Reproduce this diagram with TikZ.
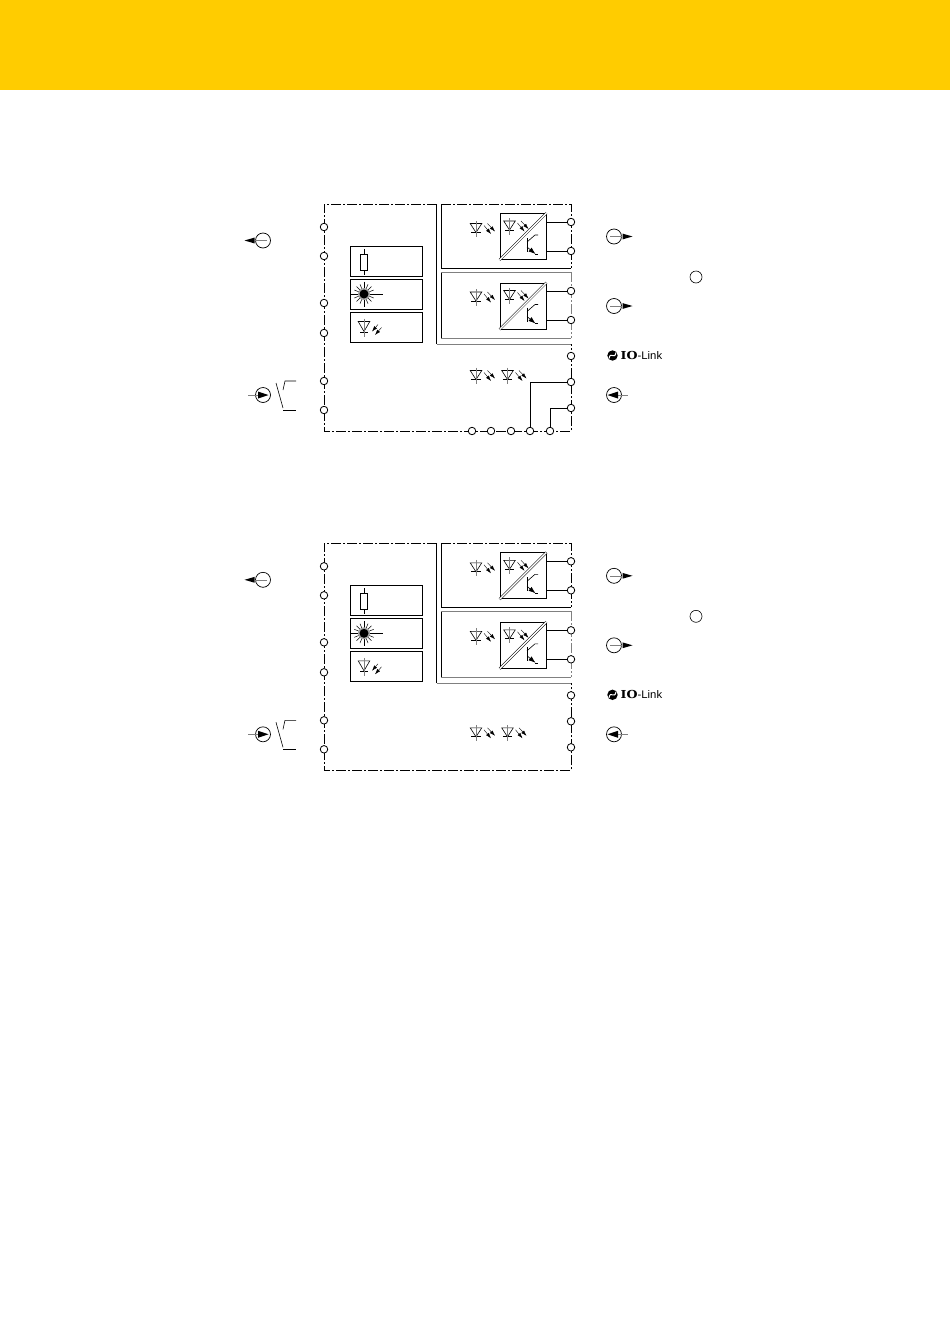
\documentclass[tikz,border=0pt]{standalone}
\usepackage{fontspec}
\setmainfont{Liberation Sans}
\newfontfamily\slabfont[FakeStretch=1.15]{DejaVu Serif}
\newfontfamily\linkfont[FakeStretch=1.03]{Liberation Sans}
\usetikzlibrary{arrows.meta}
\definecolor{headyellow}{HTML}{FFCC00}
\tikzset{
  term/.style={draw,circle,fill=white,inner sep=0pt,minimum size=7.5pt,line width=.8pt},
  dashframe/.style={line width=.7pt,dash pattern=on 10pt off 2pt on 2pt off 2pt},
  wire/.style={line width=.8pt},
  infobox/.style={draw,line width=.8pt,inner sep=0pt,minimum width=72pt,minimum height=30pt},
  convbox/.style={draw,line width=.8pt,inner sep=0pt,minimum width=46pt,minimum height=46pt},
  emit/.style={line width=.4pt,-{Latex[length=5.5pt,width=3.6pt]}},
  led/.pic={
    \draw[line width=.6pt] (-5.8,0)--(5.8,0)--(0,9)--cycle;
    \draw[line width=.7pt] (-4.7,9)--(4.7,9);
    \draw[line width=.6pt,gray] (0,-3)--(0,13.5);
    \draw[emit] (8,2)--(15,10.5);
    \draw[emit] (11.5,0)--(19,8);
  },
  ledin/.pic={
    \draw[line width=.6pt] (-5.8,0)--(5.8,0)--(0,10)--cycle;
    \draw[line width=.6pt] (-4,10.5)--(4,10.5);
    \draw[line width=.6pt,gray] (0,-3)--(0,15);
    \draw[emit] (14,3)--(8,10);
    \draw[emit] (17.5,6)--(11,13.5);
  },
  transistor/.pic={
    \draw[line width=.8pt] (0,-7)--(0,7);
    \draw[line width=.6pt] (0,-3)--(8,-10)--(11,-10);
    \draw[line width=.6pt,-{Latex[length=7pt,width=5pt]}] (0,2)--(8.5,9);
    \draw[line width=.6pt] (8,9)--(11,9);
  },
  sigout/.pic={
    \draw[line width=.7pt] (0,0) circle (7.5);
    \draw[line width=.6pt,gray] (-4,0)--(8,0);
    \fill (8.5,-2.9)--(18.5,0)--(8.5,2.9)--cycle;
  },
}
\begin{document}
\begin{tikzpicture}[x=1pt,y=-1pt]
  \useasboundingbox (0,0) rectangle (950,1344);
  \fill[headyellow] (0,0) rectangle (950,90);

  \foreach \grp/\off/\rowy in {a/0/370.5,b/339.3/388.5}{
  \begin{scope}[yshift=-\off pt]
    % frame
    \draw[dashframe] (437,204)--(324,204)--(324,431)--(571,431)--(571,344);
    \draw[dashframe] (441,204)--(571,204)--(571,268);
    \draw[dashframe,gray] (571,272)--(571,338);
    \draw[line width=.7pt] (436.5,204)--(436.5,344);
    \draw[line width=.7pt,gray] (436.5,344)--(571,344);
    \draw[line width=.7pt] (441,204)--(441,268)--(571,268);
    \draw[line width=.7pt] (441,338)--(441,272);
    \draw[line width=.7pt,gray] (441,272)--(571,272);
    \draw[line width=.7pt,gray] (441,338)--(571,338);

    % info boxes
    \node[infobox] (res\grp) at (386.5,261.3) {};
    \node[infobox] (las\grp) at (386.5,294.5) {};
    \node[infobox] (rcv\grp) at (386.5,327.3) {};
    \draw[line width=.7pt] (360.5,254)rectangle(367.5,270);
    \draw[line width=.6pt] (364,249)--(364,254) (364,270)--(364,274.5);
    \foreach \a in {0,22.5,...,337.5}
      \draw[line width=.5pt] (364,294)--++(\a:10.5);
    \draw[line width=.7pt] (351,294)--(383,294) (364,281.5)--(364,307);
    \fill[gray!70] (364,294) circle (6);
    \fill (364,294) circle (4.5);
    \pic at (364,321.5) {ledin};

    % diodes and converters
    \pic at (476,223.5) {led};
    \pic at (476,292) {led};
    \pic at (476,\rowy) {led};
    \pic at (507.5,\rowy) {led};
    \foreach \i/\y in {1/236.5,2/306}{
      \node[convbox] (conv\grp\i) at (523,\y) {};
      \draw[line width=.5pt,double,double distance=1.4pt] (conv\grp\i.south west)--(conv\grp\i.north east);
      \pic at (509.5,\y-15.5) {led};
      \pic at (527,\y+8.5) {transistor};
    }

    % terminals
    \foreach \i/\y in {1/227,2/256,3/303,4/333,5/381,6/410}
      \node[term] (l\grp\i) at (324,\y) {};
    \foreach \i/\y in {1/222,2/251,3/291,4/320,5/356,6/382,7/408}
      \node[term] (r\grp\i) at (571,\y) {};
    \draw[wire] (r\grp1)--(r\grp1 -| conv\grp1.east);
    \draw[wire] (r\grp2)--(r\grp2 -| conv\grp1.east);
    \draw[wire] (r\grp3)--(r\grp3 -| conv\grp2.east);
    \draw[wire] (r\grp4)--(r\grp4 -| conv\grp2.east);

    % signal symbols
    \pic[rotate=180] at (263,240.5) {sigout};
    \pic at (614,236.5) {sigout};
    \pic at (614,306) {sigout};
    \draw[line width=.7pt] (263,395) circle (7.5) (614,395) circle (7.5);
    \draw[line width=.6pt,gray] (248,395)--(258,395) (618,395)--(628,395);
    \fill (258,391.5)--(268.5,395)--(258,398.5)--cycle;
    \fill (618,391.5)--(607.5,395)--(618,398.5)--cycle;
    \draw[line width=.6pt] (276,383)--(283,408);
    \draw[line width=.6pt] (283,390)--(285,381)--(296,381);
    \draw[line width=.6pt] (283,410)--(296,410);
    \draw[line width=.6pt] (696,277) circle (6);

    % io-link
    \fill (612.5,355.5) circle (5.2);
    \draw[white,line width=1pt] (609,358.5) .. controls (610.5,350.5) and (614.5,360.5) .. (616,352.5);
    \node[inner sep=0pt,anchor=west] (iolink\grp) at (620.5,355.5)
      {\fontsize{11}{12}\selectfont{\slabfont\bfseries IO}{\linkfont -Link}};
  \end{scope}
  }

  % bottom row of the first unit
  \foreach \i/\x in {1/472,2/491,3/511,4/530,5/550}
    \node[term] (ba\i) at (\x,431) {};
  \draw[wire] (ra6)-|(ba4);
  \draw[wire] (ra7)-|(ba5);
\end{tikzpicture}
\end{document}
